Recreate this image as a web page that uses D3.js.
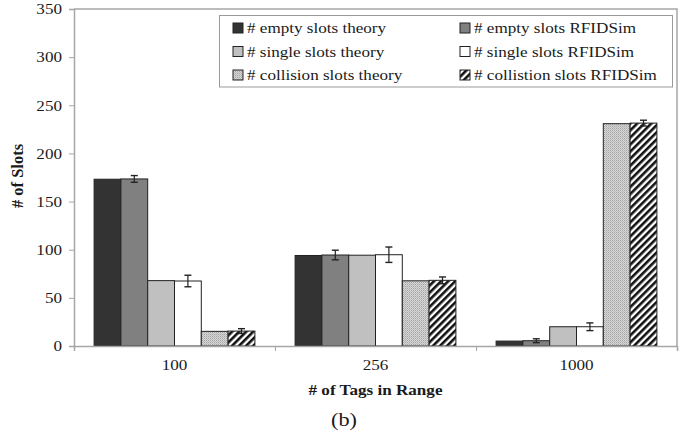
<!DOCTYPE html>
<html>
<head>
<meta charset="utf-8">
<script src="https://cdn.jsdelivr.net/npm/d3@7"></script>
<style>
  html, body { margin: 0; padding: 0; background: #fff; }
  svg { display: block; }
  text { font-family: 'Liberation Serif', 'Times New Roman', serif; fill: #1a1a1a; }
</style>
</head>
<body>
<svg id="chart" width="695" height="437"></svg>
<script>
// ---- data ----
const categories = ["100", "256", "1000"];
const seriesKeys = ["emptyTheory", "emptySim", "singleTheory", "singleSim", "collisionTheory", "collisionSim"];
const seriesLabels = ["# empty slots theory", "# empty slots RFIDSim", "# single slots theory", "# single slots RFIDSim", "# collision slots theory", "# collistion slots RFIDSim"];
const emptyTheory = [173.2, 94.0, 5.1];
const emptySim = [173.5, 94.5, 5.5];
const singleTheory = [67.9, 94.3, 20.0];
const singleSim = [67.5, 94.8, 20.0];
const collisionTheory = [15.2, 67.7, 230.9];
const collisionSim = [15.5, 68.2, 231.5];
const emptySimErr = [3.5, 5.0, 2.0];
const singleSimErr = [6.0, 8.0, 4.0];
const collisionSimErr = [2.5, 3.5, 3.0];
const yTicks = [0, 50, 100, 150, 200, 250, 300, 350];
const xTitle = "# of Tags in Range";
const yTitle = "# of Slots";
const caption = "(b)";

// ---- build table ----
const valuesByKey = { emptyTheory, emptySim, singleTheory, singleSim, collisionTheory, collisionSim };
const errByKey = { emptySim: emptySimErr, singleSim: singleSimErr, collisionSim: collisionSimErr };
const rows = categories.map((c, i) => ({
  cat: c,
  bars: seriesKeys.map(k => ({ key: k, value: valuesByKey[k][i], err: errByKey[k] ? errByKey[k][i] : null }))
}));

const svg = d3.select("#chart");
const SX = 1.14; // horizontal stretch of text seen in reference
const plot = { left: 74, right: 677, top: 9, bottom: 346 };

// ---- patterns ----
const defs = svg.append("defs");
const dots = defs.append("pattern").attr("id", "dots").attr("patternUnits", "userSpaceOnUse")
  .attr("width", 2).attr("height", 2);
dots.append("rect").attr("width", 2).attr("height", 2).attr("fill", "#d6d6d6");
dots.append("rect").attr("x", 0).attr("y", 0).attr("width", 1).attr("height", 1).attr("fill", "#a4a4a4");
dots.append("rect").attr("x", 1).attr("y", 1).attr("width", 1).attr("height", 1).attr("fill", "#bcbcbc");
const hatch = defs.append("pattern").attr("id", "hatch").attr("patternUnits", "userSpaceOnUse")
  .attr("width", 5).attr("height", 5).attr("patternTransform", "rotate(45)");
hatch.append("rect").attr("width", 5).attr("height", 5).attr("fill", "#fff");
hatch.append("rect").attr("x", 0).attr("y", 0).attr("width", 2.6).attr("height", 5).attr("fill", "#111");

const fills = {
  emptyTheory: "#333333",
  emptySim: "#808080",
  singleTheory: "#c0c0c0",
  singleSim: "#ffffff",
  collisionTheory: "url(#dots)",
  collisionSim: "url(#hatch)"
};

// ---- scales ----
const y = d3.scaleLinear().domain([0, 350]).range([plot.bottom, plot.top]);
const x0 = d3.scaleBand().domain(categories).range([plot.left, plot.right]).padding(0);
const bw = x0.bandwidth();
const x1 = d3.scaleBand().domain(seriesKeys).range([bw * 0.1, bw * 0.9]).padding(0);
const xEdge = d3.scaleLinear().domain([0, categories.length]).range([plot.left, plot.right]);

// ---- plot frame (top/right) ----
svg.append("path")
  .attr("d", `M${plot.left},${plot.top}H${plot.right}V${plot.bottom}`)
  .attr("fill", "none").attr("stroke", "#a6a6a6").attr("stroke-width", 1.5);

// ---- bars ----
const g = svg.append("g");
const groups = g.selectAll("g.cat").data(rows).join("g")
  .attr("class", "cat")
  .attr("transform", d => `translate(${x0(d.cat)},0)`);
groups.selectAll("rect").data(d => d.bars).join("rect")
  .attr("x", d => x1(d.key))
  .attr("y", d => y(d.value))
  .attr("width", x1.bandwidth())
  .attr("height", d => y(0) - y(d.value))
  .attr("fill", d => fills[d.key])
  .attr("stroke", "#222")
  .attr("stroke-width", 1);

// ---- error bars ----
const eb = groups.selectAll("g.err").data(d => d.bars.filter(b => b.err != null)).join("g").attr("class", "err");
const cx = d => x1(d.key) + x1.bandwidth() / 2;
eb.append("line").attr("x1", cx).attr("x2", cx)
  .attr("y1", d => y(d.value + d.err)).attr("y2", d => y(d.value - d.err))
  .attr("stroke", "#222").attr("stroke-width", 1.2);
eb.append("line").attr("x1", d => cx(d) - 3.5).attr("x2", d => cx(d) + 3.5)
  .attr("y1", d => y(d.value + d.err)).attr("y2", d => y(d.value + d.err))
  .attr("stroke", "#222").attr("stroke-width", 1.4);
eb.append("line").attr("x1", d => cx(d) - 3.5).attr("x2", d => cx(d) + 3.5)
  .attr("y1", d => y(d.value - d.err)).attr("y2", d => y(d.value - d.err))
  .attr("stroke", "#222").attr("stroke-width", 1.4);

// ---- y axis ----
const yAxis = svg.append("g").attr("transform", `translate(${plot.left},0)`)
  .call(d3.axisLeft(y).tickValues(yTicks).tickSize(5).tickPadding(7).tickFormat(d3.format("d")));
yAxis.select(".domain").attr("stroke", "#a6a6a6").attr("stroke-width", 1.5);
yAxis.selectAll(".tick line").attr("stroke", "#a6a6a6");
yAxis.selectAll(".tick text")
  .attr("font-size", 15).attr("fill", "#1a1a1a")
  .attr("x", -12 / SX)
  .attr("transform", `scale(${SX},1)`);

// ---- x axis: boundary ticks ----
const xAxisEdge = svg.append("g").attr("transform", `translate(0,${plot.bottom})`)
  .call(d3.axisBottom(xEdge).tickValues(d3.range(categories.length + 1)).tickSize(5).tickFormat(""));
xAxisEdge.select(".domain").attr("stroke", "#a6a6a6").attr("stroke-width", 1.5);
xAxisEdge.selectAll(".tick line").attr("stroke", "#a6a6a6");

// ---- x axis: category labels ----
const xAxisLab = svg.append("g").attr("transform", `translate(0,${plot.bottom})`)
  .call(d3.axisBottom(x0).tickSize(0).tickPadding(13));
xAxisLab.select(".domain").remove();
xAxisLab.selectAll(".tick text")
  .attr("font-size", 15).attr("fill", "#1a1a1a")
  .attr("transform", `scale(${SX},1)`);

// ---- titles ----
svg.append("text")
  .attr("transform", `translate(${(plot.left + plot.right) / 2},395) scale(${SX},1)`)
  .attr("text-anchor", "middle").attr("font-size", 15).attr("font-weight", "bold")
  .text(xTitle);
svg.append("text")
  .attr("transform", `translate(23,176) rotate(-90)`)
  .attr("text-anchor", "middle").attr("font-size", 16.5).attr("font-weight", "bold")
  .text(yTitle);
svg.append("text")
  .attr("transform", `translate(344,426) scale(${SX},1)`)
  .attr("text-anchor", "middle").attr("font-size", 19.5)
  .text(caption);

// ---- legend ----
const legend = svg.append("g");
legend.append("rect").attr("x", 219.5).attr("y", 15.5).attr("width", 453).attr("height", 71.5)
  .attr("fill", "#fff").attr("stroke", "#9a9a9a").attr("stroke-width", 1);
const colX = [233, 460];
const rowY = [28, 51.5, 75];
const items = legend.selectAll("g.item").data(seriesKeys).join("g").attr("class", "item")
  .attr("transform", (k, i) => `translate(${colX[i % 2]},${rowY[Math.floor(i / 2)]})`);
items.append("rect").attr("x", 0).attr("y", -5).attr("width", 10).attr("height", 10)
  .attr("fill", k => fills[k]).attr("stroke", "#222").attr("stroke-width", 1);
items.append("text").attr("transform", `translate(14,5) scale(${SX},1)`)
  .attr("font-size", 15).text((k, i) => seriesLabels[i]);
</script>
</body>
</html>
